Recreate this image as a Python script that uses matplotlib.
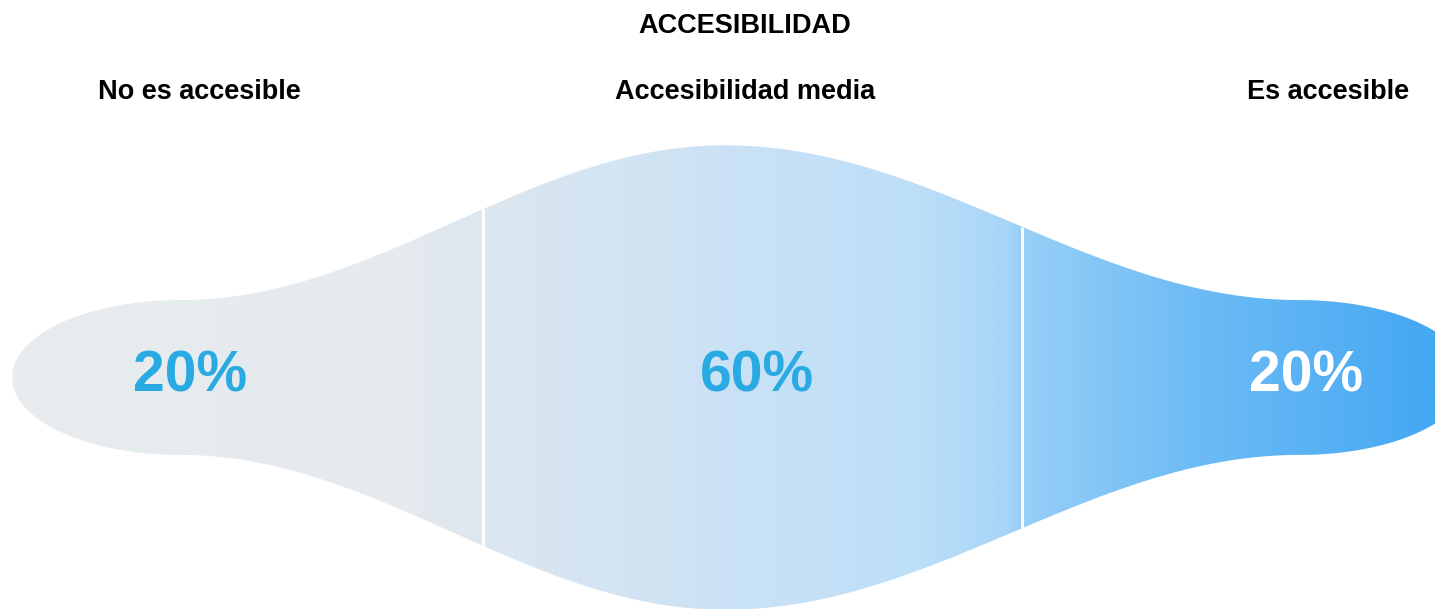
import numpy as np
import matplotlib
matplotlib.use("Agg")
import matplotlib.pyplot as plt
from matplotlib.patches import Polygon
from matplotlib.colors import LinearSegmentedColormap

# Data
categories = ["No es accesible", "Accesibilidad media", "Es accesible"]
values = [20, 60, 20]
value_labels = ["20%", "60%", "20%"]
title = "ACCESIBILIDAD"

# Layout (pixel coordinates)
W, H = 1435, 609
cy = 377.5
scale = 3.87                      # half-height per percentage point
peak_x = [180, 725, 1300]         # where each slice reaches its full height
cap_left, cap_right = 12, 1468    # tips of the rounded ends
dividers = [483, 1022]
value_x = [190, 757, 1306]
cat_x = [199, 745, 1328]

fig = plt.figure(figsize=(W / 100, H / 100), dpi=100)
ax = fig.add_axes([0, 0, 1, 1])
ax.set_xlim(0, W)
ax.set_ylim(H, 0)
ax.axis("off")

half = [v * scale for v in values]


def half_height(x):
    x = np.asarray(x, dtype=float)
    out = np.zeros_like(x)
    # left rounded cap
    m = x <= peak_x[0]
    t = (peak_x[0] - x[m]) / (peak_x[0] - cap_left)
    out[m] = half[0] * np.sqrt(np.clip(1 - t ** 2, 0, 1))
    # smooth transitions between slice peaks
    for i in range(len(peak_x) - 1):
        m = (x > peak_x[i]) & (x <= peak_x[i + 1])
        t = (x[m] - peak_x[i]) / (peak_x[i + 1] - peak_x[i])
        s = (1 - np.cos(np.pi * t)) / 2
        out[m] = half[i] + (half[i + 1] - half[i]) * s
    # right rounded cap
    m = x > peak_x[-1]
    t = (x[m] - peak_x[-1]) / (cap_right - peak_x[-1])
    out[m] = half[-1] * np.sqrt(np.clip(1 - t ** 2, 0, 1))
    return out


xs = np.linspace(cap_left, cap_right, 1500)
hs = half_height(xs)
verts = np.concatenate([np.column_stack([xs, cy - hs]),
                        np.column_stack([xs[::-1], cy + hs[::-1]])])
shape = Polygon(verts, closed=True, facecolor="none", edgecolor="none")
ax.add_patch(shape)

# horizontal colour gradient, grey to blue
stops = [
    (0.00, "#e8ecef"),
    (0.28, "#e4eaee"),
    (0.33, "#dde7f0"),
    (0.50, "#cbe2f5"),
    (0.64, "#bcdef8"),
    (0.70, "#a8d6f8"),
    (0.71, "#98cff7"),
    (0.83, "#6ebcf5"),
    (1.00, "#45a8f2"),
]
cmap = LinearSegmentedColormap.from_list("grad", stops)
grad = np.linspace(0, 1, 800).reshape(1, -1)
img = ax.imshow(grad, cmap=cmap, aspect="auto",
                extent=[cap_left, W, H, 0], interpolation="bilinear")
img.set_clip_path(shape)

# white slice dividers
for dx in dividers:
    h = half_height([dx])[0]
    ax.plot([dx, dx], [cy - h, cy + h], color="white", lw=2.2,
            solid_capstyle="butt", zorder=3)

font = ["Liberation Sans", "DejaVu Sans"]
ax.text(745, 26, title, ha="center", va="center", fontsize=19.5,
        fontweight="bold", family=font, color="black")
for x, c in zip(cat_x, categories):
    ax.text(x, 92, c, ha="center", va="center", fontsize=19.5,
            fontweight="bold", family=font, color="black")
value_colors = ["#2aaae2", "#2aaae2", "white"]
for x, lab, col in zip(value_x, value_labels, value_colors):
    ax.text(x, 376, lab, ha="center", va="center", fontsize=41,
            fontweight="bold", family=font, color=col, zorder=4)

fig.savefig("out.png", dpi=100, facecolor="white")
